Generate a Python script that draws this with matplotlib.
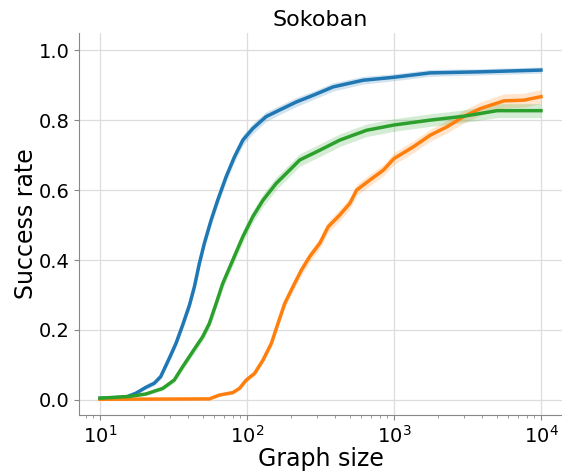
import matplotlib.pyplot as plt

# values (graph size -> success rate, +/- band half-width)
blue_x = [10, 15, 17.5, 20.5, 23.4, 25.9, 29.6, 32.9, 36.5, 40.6, 43.9, 47.4, 51.3, 57, 63.2,
          72.1, 82.2, 93.8, 109.6, 135, 167, 217, 282, 386, 617, 977, 1766, 3873, 10000]
blue_y = [0.005, 0.008, 0.019, 0.036, 0.048, 0.067, 0.119, 0.162, 0.214, 0.271, 0.324, 0.39, 0.448, 0.514, 0.571,
          0.638, 0.695, 0.743, 0.776, 0.81, 0.829, 0.852, 0.871, 0.895, 0.914, 0.922, 0.935, 0.938, 0.943]
blue_err = [0, 0.002, 0.004, 0.006, 0.007, 0.008, 0.01, 0.011, 0.012, 0.013, 0.014, 0.015, 0.015, 0.015, 0.015,
            0.015, 0.015, 0.015, 0.015, 0.014, 0.013, 0.013, 0.012, 0.012, 0.011, 0.01, 0.01, 0.009, 0.009]

green_x = [10, 15.8, 20.5, 26.7, 32, 36.5, 42.7, 50, 55.5, 61.7, 68.4, 80.1, 93.8,
           109.6, 128.5, 158, 195, 228.5, 313, 429, 652, 1000, 1766, 2979, 5035, 10000]
green_y = [0.005, 0.01, 0.017, 0.033, 0.057, 0.095, 0.138, 0.181, 0.219, 0.276, 0.333, 0.4, 0.467,
           0.524, 0.571, 0.619, 0.657, 0.686, 0.714, 0.743, 0.771, 0.786, 0.8, 0.811, 0.827, 0.827]
green_err = [0, 0.002, 0.004, 0.006, 0.008, 0.01, 0.011, 0.012, 0.013, 0.014, 0.015, 0.016, 0.017,
             0.017, 0.018, 0.018, 0.018, 0.018, 0.018, 0.018, 0.018, 0.018, 0.018, 0.018, 0.02, 0.02]

orange_x = [10, 55.5, 65, 80.1, 88.9, 98.9, 112.7, 128.5, 146.6, 162.6, 180.7, 205.6, 234.4, 267.3, 313,
            356.5, 428.5, 501, 557, 687, 847, 1000, 1358, 1766, 2296, 2979, 3873, 5598, 7656, 10000]
orange_y = [0.002, 0.003, 0.014, 0.021, 0.033, 0.057, 0.076, 0.114, 0.162, 0.219, 0.276, 0.324, 0.371, 0.41, 0.448,
            0.495, 0.529, 0.562, 0.6, 0.629, 0.657, 0.69, 0.724, 0.757, 0.781, 0.81, 0.833, 0.855, 0.857, 0.867]
orange_err = [0, 0, 0.003, 0.004, 0.005, 0.006, 0.007, 0.008, 0.01, 0.011, 0.012, 0.013, 0.014, 0.015, 0.015,
              0.016, 0.016, 0.016, 0.016, 0.016, 0.016, 0.017, 0.017, 0.017, 0.018, 0.018, 0.019, 0.02, 0.02, 0.02]

series = [
    (blue_x, blue_y, blue_err, "tab:blue"),
    (orange_x, orange_y, orange_err, "tab:orange"),
    (green_x, green_y, green_err, "tab:green"),
]

fig = plt.figure(figsize=(5.62, 4.72), dpi=100)
ax = fig.add_axes([79 / 562, 57 / 472, 1 - 79 / 562, (415 - 33) / 472])

for xs, ys, es, c in series:
    lo = [y - e for y, e in zip(ys, es)]
    hi = [y + e for y, e in zip(ys, es)]
    ax.fill_between(xs, lo, hi, color=c, alpha=0.2, lw=0)
    ax.plot(xs, ys, color=c, lw=2.5)

ax.set_xscale("log")
ax.set_xlim(7.2, 13900)
ax.set_ylim(-0.043, 1.049)
ax.set_yticks([0.0, 0.2, 0.4, 0.6, 0.8, 1.0])
ax.grid(True, color="#dddddd", lw=0.9)
ax.set_axisbelow(True)
for s in ["top", "right"]:
    ax.spines[s].set_visible(False)
for s in ["left", "bottom"]:
    ax.spines[s].set_color("#888888")
ax.tick_params(labelsize=14, colors="#888888", labelcolor="black")
ax.tick_params(which="minor", colors="#888888")
ax.set_xlabel("Graph size", fontsize=17, labelpad=0)
ax.set_ylabel("Success rate", fontsize=17, labelpad=0)
ax.set_title("Sokoban", fontsize=16, pad=5)

fig.savefig("out.png", dpi=100)
